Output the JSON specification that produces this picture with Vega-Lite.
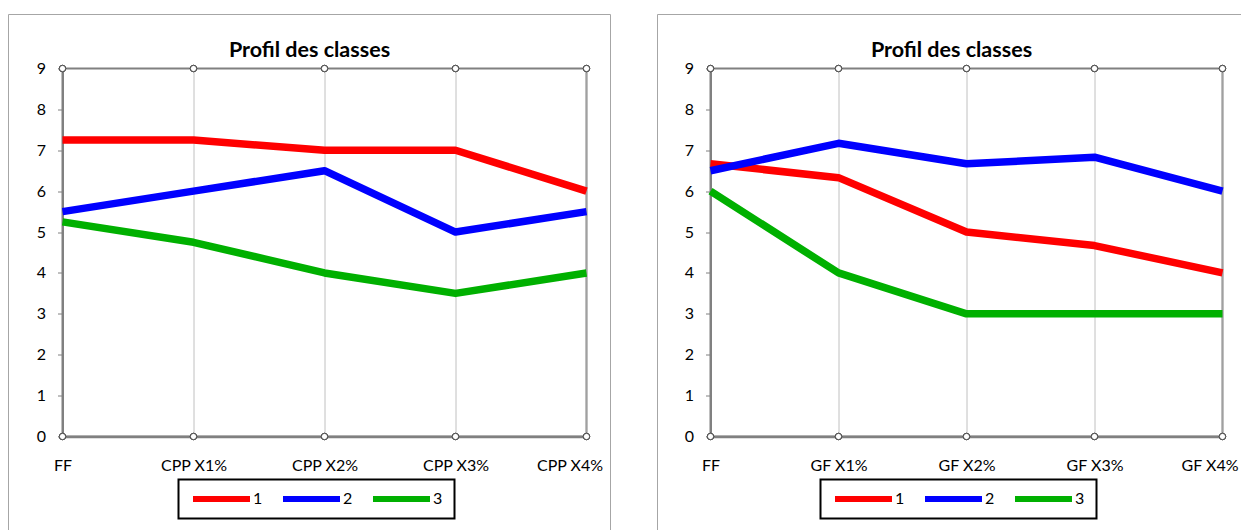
{
  "$schema": "https://vega.github.io/schema/vega-lite/v6.json",
  "padding": {"left": 6.5, "top": 12.5, "right": 0, "bottom": 0},
  "background": "white",
  "spacing": 43,
  "config": {
    "font": "Lato",
    "view": {"stroke": "#808080", "strokeWidth": 2},
    "legend": {"strokeWidth": 2}
  },
  "datasets": {
    "left": [
      {"cat": "FF", "cls": "1", "v": 7.25},
      {"cat": "CPP X1%", "cls": "1", "v": 7.25},
      {"cat": "CPP X2%", "cls": "1", "v": 7.0},
      {"cat": "CPP X3%", "cls": "1", "v": 7.0},
      {"cat": "CPP X4%", "cls": "1", "v": 6.0},
      {"cat": "FF", "cls": "2", "v": 5.5},
      {"cat": "CPP X1%", "cls": "2", "v": 6.0},
      {"cat": "CPP X2%", "cls": "2", "v": 6.5},
      {"cat": "CPP X3%", "cls": "2", "v": 5.0},
      {"cat": "CPP X4%", "cls": "2", "v": 5.5},
      {"cat": "FF", "cls": "3", "v": 5.25},
      {"cat": "CPP X1%", "cls": "3", "v": 4.75},
      {"cat": "CPP X2%", "cls": "3", "v": 4.0},
      {"cat": "CPP X3%", "cls": "3", "v": 3.5},
      {"cat": "CPP X4%", "cls": "3", "v": 4.0}
    ],
    "right": [
      {"cat": "FF", "cls": "1", "v": 6.67},
      {"cat": "GF X1%", "cls": "1", "v": 6.33},
      {"cat": "GF X2%", "cls": "1", "v": 5.0},
      {"cat": "GF X3%", "cls": "1", "v": 4.67},
      {"cat": "GF X4%", "cls": "1", "v": 4.0},
      {"cat": "FF", "cls": "2", "v": 6.5},
      {"cat": "GF X1%", "cls": "2", "v": 7.17},
      {"cat": "GF X2%", "cls": "2", "v": 6.67},
      {"cat": "GF X3%", "cls": "2", "v": 6.83},
      {"cat": "GF X4%", "cls": "2", "v": 6.0},
      {"cat": "FF", "cls": "3", "v": 6.0},
      {"cat": "GF X1%", "cls": "3", "v": 4.0},
      {"cat": "GF X2%", "cls": "3", "v": 3.0},
      {"cat": "GF X3%", "cls": "3", "v": 3.0},
      {"cat": "GF X4%", "cls": "3", "v": 3.0}
    ],
    "frame": [{"k": 1}]
  },
  "resolve": {"scale": {"color": "independent", "x": "independent", "y": "independent"}, "legend": {"color": "independent"}},
  "hconcat": [
    {
      "width": 524,
      "height": 368,
      "title": {"text": "Profil des classes", "fontSize": 21.5, "fontWeight": "bold", "font": "Lato", "offset": -47, "dx": -15, "color": "black"},
      "layer": [
        {
          "data": {"name": "frame"},
          "mark": {"type": "rect", "fill": null, "stroke": "#a6a6a6", "strokeWidth": 1},
          "encoding": {"x": {"value": -54}, "x2": {"value": 548}, "y": {"value": -54}, "y2": {"value": 500}}
        },
        {
          "data": {"name": "left"},
          "mark": {"type": "line", "strokeWidth": 7.5, "strokeJoin": "round"},
          "encoding": {
            "x": {"field": "cat", "type": "ordinal", "sort": ["FF", "CPP X1%", "CPP X2%", "CPP X3%", "CPP X4%"], "scale": {"type": "point", "padding": 0},
              "axis": {"title": null, "grid": true, "gridColor": "#c0c0c0", "gridWidth": 1, "domainColor": "#808080", "domainWidth": 2.5, "ticks": false, "labelPadding": 21, "labelFontSize": 16, "labelColor": "black", "labelAngle": 0,
                "labelOffset": {"condition": {"test": "datum.value == 'CPP X4%'", "value": -17}, "value": 0}}},
            "y": {"field": "v", "type": "quantitative", "scale": {"domain": [0, 9], "nice": false},
              "axis": {"title": null, "grid": false, "values": [0,1,2,3,4,5,6,7,8,9], "domainColor": "#808080", "domainWidth": 2, "tickColor": "#808080", "tickSize": 5, "tickWidth": 1, "labelPadding": 12, "labelFontSize": 16, "labelColor": "black"}},
            "color": {"field": "cls", "type": "nominal", "scale": {"domain": ["1", "2", "3"], "range": ["#ff0000", "#0000ff", "#00b000"]},
              "legend": {"orient": "none", "legendX": 116, "legendY": 411, "direction": "horizontal", "title": null, "strokeColor": "black", "padding": 11.5, "symbolType": "stroke", "symbolSize": 3249, "clipHeight": 16, "symbolStrokeWidth": 6, "labelFontSize": 16, "labelOffset": 0, "columnPadding": 17, "labelColor": "black"}}
          }
        },
        {
          "data": {"name": "left"},
          "mark": {"type": "point", "shape": "circle", "filled": true, "fill": "white", "stroke": "#404040", "strokeWidth": 1, "size": 40, "opacity": 1},
          "encoding": {"x": {"field": "cat", "type": "ordinal", "sort": ["FF", "CPP X1%", "CPP X2%", "CPP X3%", "CPP X4%"]}, "y": {"datum": 0}}
        },
        {
          "data": {"name": "left"},
          "mark": {"type": "point", "shape": "circle", "filled": true, "fill": "white", "stroke": "#404040", "strokeWidth": 1, "size": 40, "opacity": 1},
          "encoding": {"x": {"field": "cat", "type": "ordinal", "sort": ["FF", "CPP X1%", "CPP X2%", "CPP X3%", "CPP X4%"]}, "y": {"datum": 9}}
        }
      ]
    },
    {
      "width": 512,
      "height": 368,
      "title": {"text": "Profil des classes", "fontSize": 21.5, "fontWeight": "bold", "font": "Lato", "offset": -47, "dx": -15, "color": "black"},
      "layer": [
        {
          "data": {"name": "frame"},
          "mark": {"type": "rect", "fill": null, "stroke": "#a6a6a6", "strokeWidth": 1},
          "encoding": {"x": {"value": -53}, "x2": {"value": 560}, "y": {"value": -54}, "y2": {"value": 500}}
        },
        {
          "data": {"name": "right"},
          "mark": {"type": "line", "strokeWidth": 7.5, "strokeJoin": "round"},
          "encoding": {
            "x": {"field": "cat", "type": "ordinal", "sort": ["FF", "GF X1%", "GF X2%", "GF X3%", "GF X4%"], "scale": {"type": "point", "padding": 0},
              "axis": {"title": null, "grid": true, "gridColor": "#c0c0c0", "gridWidth": 1, "domainColor": "#808080", "domainWidth": 2.5, "ticks": false, "labelPadding": 21, "labelFontSize": 16, "labelColor": "black", "labelAngle": 0,
                "labelOffset": {"condition": {"test": "datum.value == 'GF X4%'", "value": -13}, "value": 0}}},
            "y": {"field": "v", "type": "quantitative", "scale": {"domain": [0, 9], "nice": false},
              "axis": {"title": null, "grid": false, "values": [0,1,2,3,4,5,6,7,8,9], "domainColor": "#808080", "domainWidth": 2, "tickColor": "#808080", "tickSize": 5, "tickWidth": 1, "labelPadding": 12, "labelFontSize": 16, "labelColor": "black"}},
            "color": {"field": "cls", "type": "nominal", "scale": {"domain": ["1", "2", "3"], "range": ["#ff0000", "#0000ff", "#00b000"]},
              "legend": {"orient": "none", "legendX": 110, "legendY": 411, "direction": "horizontal", "title": null, "strokeColor": "black", "padding": 11.5, "symbolType": "stroke", "symbolSize": 3249, "clipHeight": 16, "symbolStrokeWidth": 6, "labelFontSize": 16, "labelOffset": 0, "columnPadding": 17, "labelColor": "black"}}
          }
        },
        {
          "data": {"name": "right"},
          "mark": {"type": "point", "shape": "circle", "filled": true, "fill": "white", "stroke": "#404040", "strokeWidth": 1, "size": 40, "opacity": 1},
          "encoding": {"x": {"field": "cat", "type": "ordinal", "sort": ["FF", "GF X1%", "GF X2%", "GF X3%", "GF X4%"]}, "y": {"datum": 0}}
        },
        {
          "data": {"name": "right"},
          "mark": {"type": "point", "shape": "circle", "filled": true, "fill": "white", "stroke": "#404040", "strokeWidth": 1, "size": 40, "opacity": 1},
          "encoding": {"x": {"field": "cat", "type": "ordinal", "sort": ["FF", "GF X1%", "GF X2%", "GF X3%", "GF X4%"]}, "y": {"datum": 9}}
        }
      ]
    }
  ]
}
